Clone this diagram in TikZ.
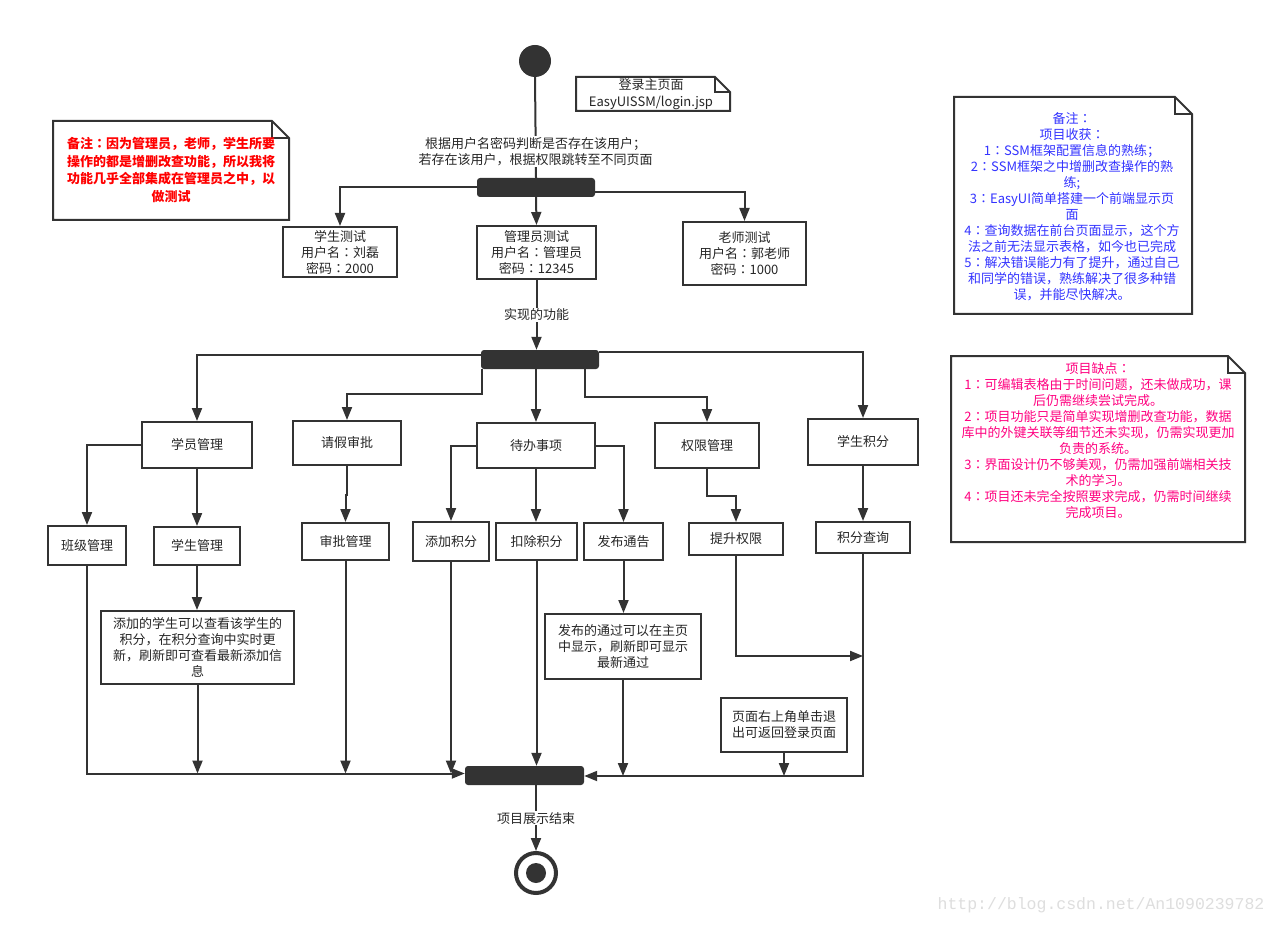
\documentclass[tikz,border=0pt]{standalone}
\usepackage{fontspec}
\newfontfamily\cjk{Noto Sans CJK SC}
\newfontfamily\cjktc{Noto Sans CJK TC}
\newfontfamily\wmfont{Liberation Mono}
\usetikzlibrary{arrows.meta}
\definecolor{ln}{HTML}{333333}
\definecolor{notered}{HTML}{FF0000}
\definecolor{noteblue}{HTML}{3333FF}
\definecolor{notepink}{HTML}{FF0080}
\newcommand\zc{{\cjktc ：}}
\newcommand\mynote[5]{%
  \draw[draw=ln, line width=2pt, fill=white, line join=miter] (#1,#2) -- (#3-#5,#2) -- (#3,#2+#5) -- (#3,#4) -- (#1,#4) -- cycle;
  \draw[draw=ln, line width=2pt] (#3-#5,#2) -- (#3-#5,#2+#5) -- (#3,#2+#5);}
\begin{document}
\begin{tikzpicture}[x=1pt, y=-1pt,
  font=\cjk\fontsize{13}{16}\selectfont,
  box/.style={draw=ln, line width=2pt, fill=white, align=center, inner sep=0pt, text=black!85},
  bar/.style={fill=ln, rounded corners=3pt, inner sep=0pt, draw=none},
  arr/.style={draw=ln, line width=2pt, -{Triangle[length=13pt,width=10pt]}},
  lnk/.style={draw=ln, line width=2pt},
  lbl/.style={fill=white, inner sep=1pt, align=center, text=black!85},
  notetxt/.style={align=center, inner sep=0pt}]
\useasboundingbox (0,0) rectangle (1277,925);
\fill[white] (0,0) rectangle (1277,925);

% notes
\mynote{576}{77}{730}{111}{15}
\node[notetxt, text=black!85, font=\cjk\fontsize{13}{17}\selectfont] (nlogin) at (651,94) {登录主页面\\EasyUISSM/login.jsp};
\mynote{53}{121}{289}{220}{17}
\node[notetxt, text=notered, font=\cjk\bfseries\fontsize{13}{17.5}\selectfont] (nleft) at (171,170) {备注{\cjktc\bfseries ：}因为管理员，老师，学生所要\\操作的都是增删改查功能，所以我将\\功能几乎全部集成在管理员之中，以\\做测试};
\mynote{954}{97}{1192}{314}{17}
\node[notetxt, text=noteblue] (nright1) at (1072,207) {备注\zc\\项目收获\zc\\1\zc SSM框架配置信息的熟练；\\2\zc SSM框架之中增删改查操作的熟\\练;\\3\zc EasyUI简单搭建一个前端显示页\\面\\4\zc 查询数据在前台页面显示，这个方\\法之前无法显示表格，如今也已完成\\5\zc 解决错误能力有了提升，通过自己\\和同学的错误，熟练解决了很多种错\\误，并能尽快解决。};
\mynote{951}{356}{1245}{542}{17}
\node[notetxt, text=notepink] (nright2) at (1098,441) {项目缺点\zc\\1\zc 可编辑表格由于时间问题，还未做成功，课\\后仍需继续尝试完成。\\2\zc 项目功能只是简单实现增删改查功能，数据\\库中的外键关联等细节还未实现，仍需实现更加\\负责的系统。\\3\zc 界面设计仍不够美观，仍需加强前端相关技\\术的学习。\\4\zc 项目还未完全按照要求完成，仍需时间继续\\完成项目。};

% start / bars / end
\node[circle, fill=ln, minimum size=32pt, inner sep=0pt] (start) at (535,61) {};
\node[bar, minimum width=118pt, minimum height=19pt] (bar1) at (536,187.5) {};
\node[bar, minimum width=118pt, minimum height=19pt] (bar2) at (540,359.5) {};
\node[bar, minimum width=119pt, minimum height=19pt] (bar3) at (524.5,775.5) {};
\node[circle, draw=ln, line width=4pt, fill=white, minimum size=40pt, inner sep=0pt] (end) at (536,873) {};
\node[circle, fill=ln, minimum size=20pt, inner sep=0pt] (endin) at (end.center) {};

% level 1
\node[box, minimum width=114pt, minimum height=50pt] (stu) at (340,252) {学生测试\\用户名\zc 刘磊\\密码\zc 2000};
\node[box, minimum width=119pt, minimum height=53pt] (adm) at (536.5,252.5) {管理员测试\\用户名\zc 管理员\\密码\zc 12345};
\node[box, minimum width=123pt, minimum height=63pt] (tea) at (744.5,253.5) {老师测试\\用户名\zc 郭老师\\密码\zc 1000};

% level 2
\node[box, minimum width=110pt, minimum height=46pt] (xyg) at (197,445) {学员管理};
\node[box, minimum width=108pt, minimum height=44pt] (qj) at (347,443) {请假审批};
\node[box, minimum width=118pt, minimum height=45pt] (db) at (536,445.5) {待办事项};
\node[box, minimum width=104pt, minimum height=45pt] (qx) at (707,445.5) {权限管理};
\node[box, minimum width=110pt, minimum height=46pt] (xsjf) at (863,442) {学生积分};

% level 3
\node[box, minimum width=78pt, minimum height=39pt] (bj) at (87,545.5) {班级管理};
\node[box, minimum width=86pt, minimum height=38pt] (xsgl) at (197,546) {学生管理};
\node[box, minimum width=87pt, minimum height=37pt] (sp) at (345.5,541.5) {审批管理};
\node[box, minimum width=76pt, minimum height=39pt] (tj) at (451,541.5) {添加积分};
\node[box, minimum width=81pt, minimum height=37pt] (kc) at (536.5,541.5) {扣除积分};
\node[box, minimum width=79pt, minimum height=37pt] (fb) at (623.5,541.5) {发布通告};
\node[box, minimum width=94pt, minimum height=32pt] (ts) at (736,539) {提升权限};
\node[box, minimum width=94pt, minimum height=31pt] (cx) at (863,537.5) {积分查询};

% level 4
\node[box, minimum width=193pt, minimum height=73pt] (info1) at (197.5,647.5) {添加的学生可以查看该学生的\\积分，在积分查询中实时更\\新，刷新即可查看最新添加信\\息};
\node[box, minimum width=156pt, minimum height=65pt] (info2) at (623,646.5) {发布的通过可以在主页\\中显示，刷新即可显示\\最新通过};
\node[box, minimum width=126pt, minimum height=54pt] (logout) at (784,725) {页面右上角单击退\\出可返回登录页面};

% watermark
\node[text=black!13, font=\wmfont\fontsize{16.5}{16.5}\selectfont, inner sep=0pt] (wm) at (1101,905) {http://blog.csdn.net/An1090239782};

% connectors top
\draw[lnk] (start.south) -- (bar1.north) node[lbl, pos=0.74] {根据用户名密码判断是否存在该用户；\\若存在该用户，根据权限跳转至不同页面};
\draw[arr] (bar1.west) -| (stu.north);
\draw[arr] (bar1.south) -- (adm.north);
\draw[arr] ([yshift=-4.5pt]bar1.east) -| (tea.north);
\draw[arr] (adm.south) -- (adm.south |- bar2.north) node[lbl, pos=0.5] {实现的功能};

% bar2 fan-out
\draw[arr] ([yshift=4.5pt]bar2.west) -| (xyg.north);
\draw[arr] ([xshift=1.5pt]bar2.south west) -- ++(0,25) -| (qj.north);
\draw[arr] (bar2.south -| db.north) -- (db.north);
\draw[arr] ([xshift=-14pt]bar2.south east) -- ++(0,28) -| (qx.north);
\draw[arr] ([yshift=7.5pt]bar2.east) -| (xsjf.north);

% level 2 -> 3
\draw[arr] (xyg.west) -| (bj.north);
\draw[arr] (xyg.south) -- (xsgl.north);
\draw[arr] (qj.south) -- ++(0,29) -| (sp.north);
\draw[arr] (db.west) -| (tj.north);
\draw[arr] (db.south) -- (db.south |- kc.north);
\draw[arr] (db.east) -| (fb.north);
\draw[arr] (qx.south) -- ++(0,27) -| (ts.north);
\draw[arr] (xsjf.south) -- (xsjf.south |- cx.north);

% level 3 -> 4
\draw[arr] (xsgl.south) -- (xsgl.south |- info1.north);
\draw[arr] (fb.south) -- (fb.south |- info2.north);

% merge
\coordinate (jl) at ([yshift=2pt]bar3.west);
\coordinate (jr) at ([yshift=-0.5pt]bar3.east);
\coordinate (tsend) at (cx.south |- 0,656);
\draw[arr] (bj.south) |- (jl);
\draw[arr] (info1.south) -- (info1.south |- jl);
\draw[arr] (sp.south) -- (sp.south |- jl);
\draw[arr] (tj.south) -- (tj.south |- jl);
\draw[arr] (kc.south) -- (kc.south |- bar3.north);
\draw[arr] (cx.south) |- (jr);
\draw[arr] (info2.south) -- (info2.south |- jr);
\draw[arr] (logout.south) -- (logout.south |- jr);
\draw[arr] (ts.south) |- (tsend);

% end
\draw[arr] (end.north |- bar3.south) -- (end.north) node[lbl, pos=0.5] {项目展示结束};
\end{tikzpicture}
\end{document}
